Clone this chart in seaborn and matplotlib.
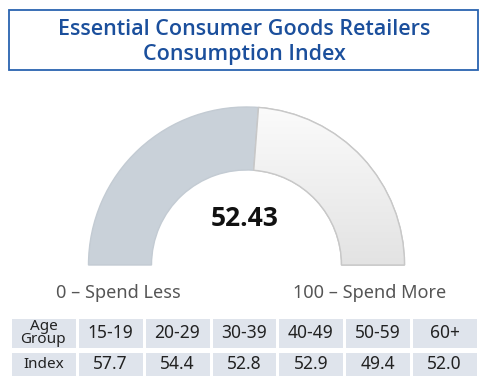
import numpy as np
import pandas as pd
import matplotlib
matplotlib.use("Agg")
import matplotlib.pyplot as plt
import seaborn as sns
from matplotlib.patches import Rectangle, Wedge
from matplotlib.colors import ListedColormap, LinearSegmentedColormap

# data
title = "Essential Consumer Goods Retailers\nConsumption Index"
gauge_value = 52.43
gauge_max = 100
low_label = "0 – Spend Less"
high_label = "100 – Spend More"
age_groups = ["15-19", "20-29", "30-39", "40-49", "50-59", "60+"]
index_values = [57.7, 54.4, 52.8, 52.9, 49.4, 52.0]

sns.set_theme(style="white")
plt.rcParams["font.family"] = ["Noto Sans", "DejaVu Sans"]
bold_font = ["Open Sans", "DejaVu Sans"]

W, H = 488, 390
fig = plt.figure(figsize=(W / 100, H / 100), dpi=100)
fig.patch.set_facecolor("white")
ax = fig.add_axes([0, 0, 1, 1])

def py(y):
    # pixel row (from top) -> data y
    return H - y

# title box
ax.add_patch(Rectangle((9, py(70)), 469, 60, fill=False, edgecolor="#2a63b0", linewidth=1.3))
ax.text(244, py(42), title, ha="center", va="center", color="#1b4f9c",
        fontsize=15.5, fontweight="semibold", family=bold_font, linespacing=1.3)

# gauge
cx, cy, r_out, r_in = 246.5, py(265), 158, 95
wedges, _ = ax.pie([gauge_value, gauge_max - gauge_value, gauge_max],
                   startangle=180, counterclock=False, radius=r_out, center=(cx, cy),
                   colors=["#c9d1d9", "#f2f2f2", "white"],
                   wedgeprops=dict(width=r_out - r_in, linewidth=1), frame=True)
wedges[0].set_edgecolor("#c3cbd3")
wedges[1].set_edgecolor("#c8c8c8")
wedges[2].set_visible(False)

# soft gradient on the remaining part
grad_cmap = LinearSegmentedColormap.from_list("g", ["#e3e3e3", "#fbfbfb"])
grad = np.linspace(0, 1, 200).reshape(-1, 1)
im = ax.imshow(grad, extent=[cx - r_out, cx + r_out, cy, cy + r_out], origin="lower",
               cmap=grad_cmap, aspect="auto", zorder=wedges[1].get_zorder() + 0.1)
im.set_clip_path(wedges[1])
split_angle = 180 - gauge_value / gauge_max * 180
ax.add_patch(Wedge((cx, cy), r_out, 0, split_angle, width=r_out - r_in, fill=False,
                   edgecolor="#c8c8c8", linewidth=1, zorder=im.get_zorder() + 0.1))

ax.text(cx - 2, py(219), f"{gauge_value:.2f}", ha="center", va="center",
        fontsize=19, fontweight="bold", family=bold_font, color="#111111")

ax.text(118, py(293), low_label, ha="center", va="center", fontsize=13, color="#555555")
ax.text(370, py(293), high_label, ha="center", va="center", fontsize=13, color="#555555")

ax.set_xlim(0, W)
ax.set_ylim(0, H)
ax.set_aspect("auto")
ax.axis("off")

# table as two one-row heatmaps
rows = [
    ("Age\nGroup", age_groups, (317, 349)),
    ("Index", [f"{v:.1f}" for v in index_values], (351, 377)),
]
cell_cmap = ListedColormap(["#dfe4ec"])
for head, cells, (top, bottom) in rows:
    tax = fig.add_axes([10 / W, (H - bottom) / H, 468 / W, (bottom - top) / H])
    labels = np.array([[head] + list(cells)])
    df = pd.DataFrame(np.zeros(labels.shape))
    sns.heatmap(df, ax=tax, cmap=cell_cmap, cbar=False, annot=labels, fmt="",
                linewidths=2, linecolor="white", xticklabels=False, yticklabels=False,
                annot_kws=dict(fontsize=12.5, color="#222222"))
    tax.texts[0].set_fontsize(11)
    tax.texts[0].set_linespacing(0.9)

fig.savefig("out.png", dpi=100, facecolor="white")
